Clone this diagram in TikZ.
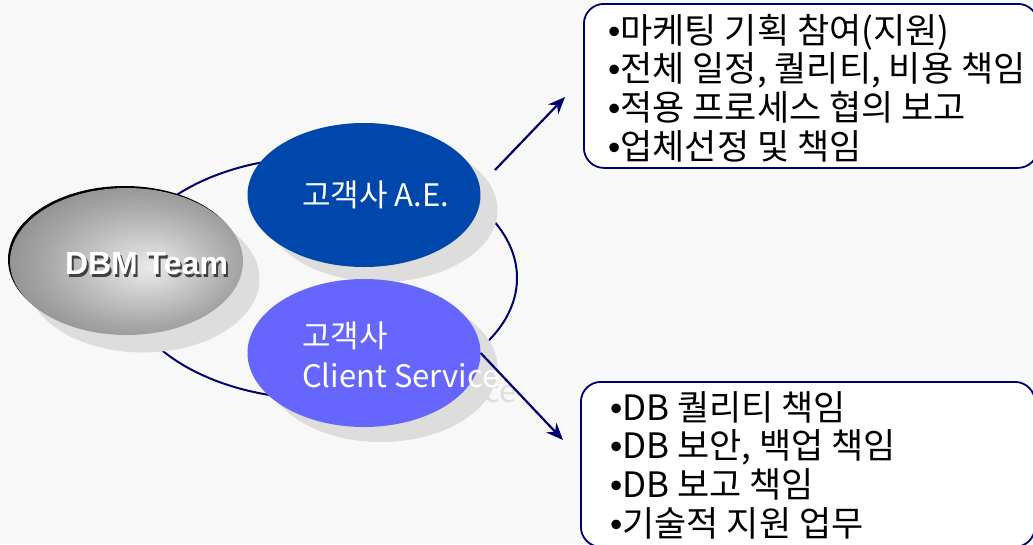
\documentclass[tikz,border=0pt]{standalone}
\usepackage{fontspec}
\setmainfont{Noto Sans CJK KR}
\newfontfamily\dbmfont{Liberation Sans}
\usetikzlibrary{arrows.meta,shapes.geometric}
\definecolor{bgcol}{RGB}{248,248,248}
\definecolor{ringnavy}{RGB}{0,0,110}
\definecolor{aeblue}{RGB}{0,71,171}
\definecolor{csblue}{RGB}{102,102,255}
\definecolor{shadowgray}{RGB}{221,221,221}
\pgfdeclareradialshading{dbmshade}{\pgfpoint{5bp}{-2bp}}{color(0bp)=(white!92!black); color(20bp)=(white!66!black); color(50bp)=(white!34!black)}
\newcommand{\bul}{{\dbmfont •}}
\begin{document}
\begin{tikzpicture}[x=1pt,y=-1pt,
  oval/.style={ellipse,inner sep=0pt,minimum width=233pt,minimum height=147pt},
  shadowoval/.style={oval,fill=shadowgray},
  roletext/.style={anchor=west,align=left,inner sep=0pt,text=white,font=\fontsize{31}{40}\selectfont},
  infobox/.style={draw=ringnavy,line width=1.8pt,fill=white,rounded corners=20pt,minimum width=454pt,minimum height=164pt,anchor=north west},
  infotext/.style={anchor=west,align=left,inner sep=0pt,font=\fontsize{35}{38.7}\selectfont},
  arr/.style={ringnavy,line width=2.2pt,-{Stealth[length=17pt,width=14pt]}}]
  \useasboundingbox[fill=bgcol](0,0)rectangle(1033,544);
  \node[ellipse,draw=ringnavy,line width=2pt,minimum width=394pt,minimum height=242pt](ring)at(320,278){};%外周
  % 影
  \node[shadowoval](dbmshadow)at(143,279){};
  \node[shadowoval,minimum height=144pt](aeshadow)at(381,210){};
  \node[shadowoval,minimum height=148pt](csshadow)at(381,368){};
  \node[roletext,text=shadowgray]at(319,370){고객사\\Client Service};
  % DBM Team
  \node[oval,fill=black](dbmrim)at(124.5,259.5){};
  \node[oval,shading=dbmshade](dbm)at(126.5,261.5){};
  \node[font=\dbmfont\bfseries\fontsize{32}{32}\selectfont,text=black!75]at(148.5,266.5){DBM Team};
  \node[font=\dbmfont\bfseries\fontsize{32}{32}\selectfont,text=white](dbmlabel)at(146.5,264){DBM Team};
  % 고객사
  \node[oval,fill=aeblue,minimum height=144pt](ae)at(364,195){};
  \node[roletext](aelabel)at(302,195){고객사 A.E.};
  \node[oval,fill=csblue,minimum height=148pt](cs)at(364,353){};
  \node[roletext](cslabel)at(302,355){고객사\\Client Service};
  % 역할
  \node[infobox](aebox)at(583,3){};
  \node[infotext](aetext)at(608,88){\bul 마케팅 기획 참여(지원)\\\bul 전체 일정, 퀄리티, 비용 책임\\\bul 적용 프로세스 협의 보고\\\bul 업체선정 및 책임};
  \node[infobox,minimum height=165pt](csbox)at(580,381){};
  \node[infotext](cstext)at(610,465){\bul DB 퀄리티 책임\\\bul DB 보안, 백업 책임\\\bul DB 보고 책임\\\bul 기술적 지원 업무};
  \coordinate(aeout)at(495,170);
  \coordinate(aetip)at(565,97);
  \coordinate(cstip)at(563,440);
  \draw[arr](aeout)--(aetip);
  \draw[arr](cs.east)--(cstip);
\end{tikzpicture}
\end{document}
